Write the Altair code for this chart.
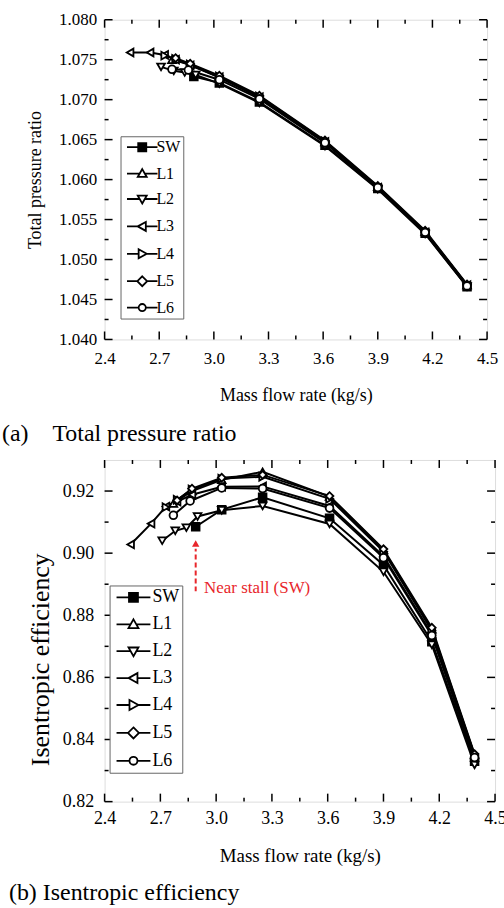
import altair as alt
import pandas as pd

SERIES = ["SW", "L1", "L2", "L3", "L4", "L5", "L6"]

# mass flow rate (kg/s) per series
SW_M = [2.89, 3.03, 3.25, 3.61, 3.90, 4.16, 4.39]
L1_M = [2.77, 2.87, 3.03, 3.25, 3.61, 3.90, 4.16, 4.39]
L2_M = [2.71, 2.78, 2.84, 2.90, 3.03, 3.25, 3.61, 3.90, 4.16, 4.39]
L3_M = [2.54, 2.65, 2.73, 2.79, 2.87, 3.03, 3.25, 3.61, 3.90, 4.16, 4.39]
L4_M = [2.73, 2.79, 2.87, 3.03, 3.25, 3.61, 3.90, 4.16, 4.39]
L5_M = [2.79, 2.87, 3.03, 3.25, 3.61, 3.90, 4.16, 4.39]
L6_M = [2.77, 2.86, 3.03, 3.25, 3.61, 3.90, 4.16, 4.39]

# total pressure ratio
SW_PR = [1.0729, 1.0721, 1.0697, 1.0643, 1.0589, 1.0533, 1.0466]
L1_PR = [1.0750, 1.0744, 1.0728, 1.0703, 1.0647, 1.0591, 1.0535, 1.0468]
L2_PR = [1.0741, 1.0736, 1.0734, 1.0731, 1.0720, 1.0696, 1.0642, 1.0588, 1.0532, 1.0466]
L3_PR = [1.0759, 1.0759, 1.0756, 1.0750, 1.0743, 1.0728, 1.0703, 1.0647, 1.0590, 1.0534, 1.0468]
L4_PR = [1.0755, 1.0751, 1.0744, 1.0729, 1.0704, 1.0648, 1.0591, 1.0535, 1.0468]
L5_PR = [1.0752, 1.0745, 1.0730, 1.0705, 1.0649, 1.0592, 1.0536, 1.0469]
L6_PR = [1.0738, 1.0737, 1.0725, 1.0701, 1.0646, 1.0590, 1.0534, 1.0467]

# isentropic efficiency
SW_EF = [0.9085, 0.9140, 0.9180, 0.9112, 0.8962, 0.8715, 0.8330]
L1_EF = [0.9160, 0.9200, 0.9236, 0.9262, 0.9182, 0.9010, 0.8755, 0.8350]
L2_EF = [0.9040, 0.9072, 0.9082, 0.9118, 0.9138, 0.9152, 0.9094, 0.8940, 0.8705, 0.8318]
L3_EF = [0.9028, 0.9095, 0.9150, 0.9166, 0.9188, 0.9214, 0.9215, 0.9152, 0.8990, 0.8740, 0.8338]
L4_EF = [0.9148, 0.9172, 0.9205, 0.9240, 0.9246, 0.9175, 0.9005, 0.8750, 0.8348]
L5_EF = [0.9170, 0.9208, 0.9243, 0.9252, 0.9184, 0.9013, 0.8760, 0.8353]
L6_EF = [0.9122, 0.9168, 0.9210, 0.9208, 0.9145, 0.8985, 0.8735, 0.8342]

X_LABELS = [2.4, 2.7, 3.0, 3.3, 3.6, 3.9, 4.2, 4.5]
X_MINOR = [2.55, 2.85, 3.15, 3.45, 3.75, 4.05, 4.35]
PR_LABELS = [1.040, 1.045, 1.050, 1.055, 1.060, 1.065, 1.070, 1.075, 1.080]
PR_MINOR = [1.0425, 1.0475, 1.0525, 1.0575, 1.0625, 1.0675, 1.0725, 1.0775]
EF_LABELS = [0.82, 0.84, 0.86, 0.88, 0.90, 0.92]
EF_MINOR = [0.83, 0.85, 0.87, 0.89, 0.91]

# annotation (b)
ANN_M = [2.89]
ANN_Y0 = [0.8877]
ANN_Y1 = [0.9014]
ANN_TIP = [0.9031]
ANN_TEXT_M = [2.935]
ANN_TEXT_Y = [0.8871]
ANN_TEXT = ["Near stall (SW)"]

FONT = "Liberation Serif"
RED = "#e8262b"

M = dict(SW=SW_M, L1=L1_M, L2=L2_M, L3=L3_M, L4=L4_M, L5=L5_M, L6=L6_M)
PR = dict(SW=SW_PR, L1=L1_PR, L2=L2_PR, L3=L3_PR, L4=L4_PR, L5=L5_PR, L6=L6_PR)
EF = dict(SW=SW_EF, L1=L1_EF, L2=L2_EF, L3=L3_EF, L4=L4_EF, L5=L5_EF, L6=L6_EF)

rows = []
for s in SERIES:
    for m, p, e in zip(M[s], PR[s], EF[s]):
        rows.append({"series": s, "m": m, "pr": p, "eff": e})
df = pd.DataFrame(rows)

MARKERS = ["square", "triangle-up", "triangle-down", "triangle-left",
           "triangle-right", "diamond", "circle"]
FILLS = ["black"] + ["white"] * 6
STROKES = ["black"] * 7


def lp(marker, l, r):
    return f"M-1,0H{l}M{r},0H5.8{marker}"


LEGEND_PATHS = [
    lp("M1.5,-0.9H3.3V0.9H1.5Z", 1.5, 3.3),
    lp("M2.4,-1L3.4,0.75H1.4Z", 1.83, 2.97),
    lp("M2.4,1L3.4,-0.75H1.4Z", 1.83, 2.97),
    lp("M1.4,0L3.2,-1V1Z", 1.4, 3.2),
    lp("M3.4,0L1.6,-1V1Z", 1.6, 3.4),
    lp("M2.4,-1.1L3.5,0L2.4,1.1L1.3,0Z", 1.3, 3.5),
    lp("M1.6,0A0.8,0.8,0,1,0,3.2,0A0.8,0.8,0,1,0,1.6,0Z", 1.6, 3.2),
]


def panel(ycol, ydom, ylabels, yminor, yfmt, ytitle, W, H, cfg, extra=None):
    xax = alt.Axis(values=X_LABELS, format=".1f", title="Mass flow rate (kg/s)",
                   ticks=False, domain=False, grid=False, labelFlush=False,
                   labelOverlap=False, labelFont=FONT, labelFontSize=cfg["lab"],
                   labelColor="black", labelPadding=cfg["xlp"],
                   titleFont=FONT, titleFontSize=cfg["xt"], titleFontWeight="normal",
                   titleColor="black", titlePadding=cfg["xtp"])
    yax_kw = dict(values=ylabels, format=yfmt, title=ytitle,
                  ticks=False, domain=False, grid=False, labelFlush=False,
                  labelOverlap=False, labelFont=FONT, labelFontSize=cfg["lab"],
                  labelColor="black", labelPadding=cfg["ylp"],
                  titleFont=FONT, titleFontSize=cfg["yt"], titleFontWeight="normal",
                  titleColor="black", titlePadding=cfg["ytp"])
    if "titleY" in cfg:
        yax_kw["titleY"] = cfg["titleY"]
    yax = alt.Axis(**yax_kw)
    xs = alt.Scale(domain=[2.4, 4.5], nice=False, zero=False)
    ys = alt.Scale(domain=ydom, nice=False, zero=False)

    base = alt.Chart(df)
    lines = base.mark_line(color="black", strokeWidth=2).encode(
        x=alt.X("m:Q", scale=xs, axis=xax),
        y=alt.Y(f"{ycol}:Q", scale=ys, axis=yax),
        detail="series:N",
        order="m:Q",
    )
    pts = base.mark_point(filled=True, stroke="black", strokeWidth=1.8,
                          size=60, opacity=1).encode(
        x="m:Q", y=f"{ycol}:Q",
        shape=alt.Shape("series:N", scale=alt.Scale(domain=SERIES, range=MARKERS), legend=None),
        fill=alt.Fill("series:N", scale=alt.Scale(domain=SERIES, range=FILLS), legend=None),
    )
    leg = alt.Legend(title=None, orient="none", legendX=cfg["lx"], legendY=cfg["ly"],
                     padding=3, strokeColor="#666", fillColor="white",
                     labelFont=FONT, labelFontSize=cfg["lfs"], labelColor="black",
                     symbolSize=cfg["ss"], symbolStrokeWidth=1.8,
                     labelOffset=cfg["lo"], rowPadding=cfg["rp"], symbolOpacity=1)
    legl = base.transform_filter("false").mark_point(
        filled=True, strokeWidth=1.8, opacity=1).encode(
        x="m:Q", y=f"{ycol}:Q",
        shape=alt.Shape("series:N", scale=alt.Scale(domain=SERIES, range=LEGEND_PATHS), legend=leg),
        fill=alt.Fill("series:N", scale=alt.Scale(domain=SERIES, range=FILLS), legend=leg),
        stroke=alt.Stroke("series:N", scale=alt.Scale(domain=SERIES, range=STROKES), legend=leg),
    )

    layers = []
    for vals, L in ((X_LABELS, 8), (X_MINOR, 4)):
        d = alt.Chart(pd.DataFrame({"m": vals}))
        layers.append(d.mark_rule(color="black", strokeWidth=1.5).encode(
            x="m:Q", y=alt.value(H), y2=alt.value(H - L)))
        layers.append(d.mark_rule(color="black", strokeWidth=1.5).encode(
            x="m:Q", y=alt.value(0), y2=alt.value(L)))
    for vals, L in ((ylabels, 8), (yminor, 4)):
        d = alt.Chart(pd.DataFrame({ycol: vals}))
        layers.append(d.mark_rule(color="black", strokeWidth=1.5).encode(
            y=f"{ycol}:Q", x=alt.value(0), x2=alt.value(L)))
        layers.append(d.mark_rule(color="black", strokeWidth=1.5).encode(
            y=f"{ycol}:Q", x=alt.value(W), x2=alt.value(W - L)))

    all_layers = [lines, pts] + layers + (extra or []) + [legl]
    ch = alt.layer(*all_layers).resolve_scale(
        shape="independent", fill="independent", stroke="independent")
    return ch.properties(
        width=W, height=H,
        title=alt.TitleParams(text=cfg["cap"], orient="bottom", anchor="start",
                              frame="group", dx=cfg["cdx"], offset=cfg["coff"],
                              font=FONT, fontSize=24, fontWeight="normal", color="black"),
    )


ann = pd.DataFrame({"m": ANN_M, "eff": ANN_Y0, "eff2": ANN_Y1, "tip": ANN_TIP})
txt = pd.DataFrame({"m": ANN_TEXT_M, "eff": ANN_TEXT_Y, "t": ANN_TEXT})
extra_b = [
    alt.Chart(ann).mark_rule(color=RED, strokeWidth=2, strokeDash=[5, 3]).encode(
        x="m:Q", y="eff:Q", y2="eff2:Q"),
    alt.Chart(ann).mark_point(shape="triangle-up", filled=True, color=RED,
                              size=55, opacity=1).encode(x="m:Q", y="tip:Q"),
    alt.Chart(txt).mark_text(align="left", baseline="alphabetic", color=RED,
                             font=FONT, fontSize=17).encode(
        x="m:Q", y="eff:Q", text="t:N"),
]

cfg_a = dict(lab=17, xt=18, yt=18, xlp=11, xtp=20, ylp=8, ytp=14,
             lx=16, ly=117, lfs=16, ss=81, lo=17, rp=9.5,
             cap="(a)\u00a0\u00a0\u00a0\u00a0Total pressure ratio", cdx=-103, coff=18)
cfg_b = dict(lab=18, xt=19, yt=26, xlp=8, xtp=19, ylp=11, ytp=9, titleY=200,
             lx=5, ly=126, lfs=18, ss=100, lo=22, rp=9,
             cap="(b) Isentropic efficiency", cdx=-96, coff=16)

top = panel("pr", [1.040, 1.080], PR_LABELS, PR_MINOR, ".3f", "Total pressure ratio",
            384, 321, cfg_a)
bottom = panel("eff", [0.82, 0.93], EF_LABELS, EF_MINOR, ".2f", "Isentropic efficiency",
               392, 343, cfg_b, extra_b)

chart = alt.concat(top, bottom, columns=1, spacing=11, align="none").properties(
    padding={"left": 1, "top": 8, "right": -3, "bottom": 2},
    background="white",
).configure_view(stroke="black", strokeWidth=2).configure(font=FONT)

chart.save("out.html", embed_options={"renderer": "svg", "actions": False})
